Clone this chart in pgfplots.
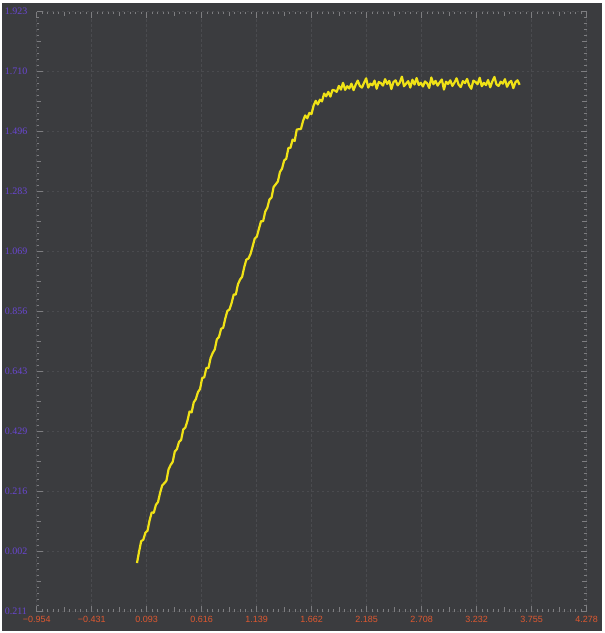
\documentclass[border=0pt]{standalone}
\usepackage{fontspec}
\setmainfont{Liberation Sans}
\newfontfamily\ylabfont{Liberation Serif}
\usepackage{pgfplots}
\pgfplotsset{compat=1.18}
\definecolor{bgdark}{RGB}{59,60,63}
\definecolor{gridgray}{RGB}{74,75,79}
\definecolor{tickgray}{RGB}{125,125,128}
\definecolor{ylab}{RGB}{105,70,210}
\definecolor{xlab}{RGB}{222,88,48}
\definecolor{curve}{RGB}{240,226,22}
\begin{document}
\begin{tikzpicture}
\useasboundingbox (-36.7bp,-21.3bp) rectangle (568.3bp,611.7bp);
\fill[white] (-36.7bp,-21.3bp) rectangle (568.3bp,611.7bp);
\fill[bgdark] (-34.7bp,-19.3bp) rectangle (565.3bp,608.7bp);
\begin{axis}[
  width=550bp, height=600bp, scale only axis,
  xmin=-0.954, xmax=4.278, ymin=-0.211, ymax=1.923,
  axis line style={draw=none},
  tick align=inside, tick pos=both,
  xticklabel pos=bottom, yticklabel pos=left,
  xtick={-0.954,-0.4308,0.0924,0.6156,1.1388,1.662,2.1852,2.7084,3.2316,3.7548,4.278},
  xticklabels={−0.954,−0.431,0.093,0.616,1.139,1.662,2.185,2.708,3.232,3.755,4.278},
  ytick={-0.211,0.0024,0.2158,0.4292,0.6426,0.856,1.0694,1.2828,1.4962,1.7096,1.923},
  yticklabels={0.211,0.002,0.216,0.429,0.643,0.856,1.069,1.283,1.496,1.710,1.923},
  minor tick num=9,
  major tick length=6bp, minor tick length=2.5bp,
  every tick/.style={color=tickgray, line width=0.8bp},
  xmajorgrids, ymajorgrids,
  major grid style={color=gridgray, dash pattern=on 2.5bp off 2.5bp, line width=0.7bp},
  xticklabel style={font=\fontsize{9}{10}\selectfont, text=xlab, anchor=north, inner sep=0pt, yshift=-4.5bp},
  yticklabel style={font=\ylabfont\fontsize{10}{11}\selectfont, text=ylab, anchor=west, inner sep=0pt, xshift=-32bp},
  extra x ticks={-0.6924,-0.1692,0.354,0.8772,1.4004,1.9236,2.4468,2.97,3.4932,4.0164},
  extra x tick labels={},
  extra x tick style={grid=none, major tick length=4.5bp},
  extra y ticks={-0.1043,0.1091,0.3225,0.5359,0.7493,0.9627,1.1761,1.3895,1.6029,1.8163},
  extra y tick labels={},
  extra y tick style={grid=none, major tick length=4.5bp},
]
\addplot[color=curve, line width=2.2bp, mark=none, line join=round] coordinates {
(0.00,-0.038) (0.02,0.003) (0.04,0.040) (0.06,0.045) (0.08,0.070) (0.10,0.077)
(0.12,0.114) (0.14,0.142) (0.16,0.141) (0.18,0.169) (0.20,0.179) (0.22,0.212)
(0.24,0.238) (0.26,0.246) (0.28,0.255) (0.30,0.295) (0.32,0.311) (0.34,0.322)
(0.36,0.359) (0.38,0.367) (0.40,0.393) (0.42,0.400) (0.44,0.437) (0.46,0.444)
(0.48,0.468) (0.50,0.501) (0.52,0.498) (0.54,0.534) (0.56,0.545) (0.58,0.570)
(0.60,0.581) (0.62,0.620) (0.64,0.623) (0.66,0.656) (0.68,0.656) (0.70,0.691)
(0.72,0.709) (0.74,0.722) (0.76,0.758) (0.78,0.766) (0.80,0.795) (0.82,0.799)
(0.84,0.832) (0.86,0.859) (0.88,0.864) (0.90,0.887) (0.92,0.917) (0.94,0.917)
(0.96,0.953) (0.98,0.970) (1.00,0.980) (1.02,1.014) (1.04,1.041) (1.06,1.045)
(1.08,1.061) (1.10,1.088) (1.12,1.116) (1.14,1.123) (1.16,1.151) (1.18,1.178)
(1.20,1.178) (1.22,1.212) (1.24,1.226) (1.26,1.255) (1.28,1.262) (1.30,1.300)
(1.32,1.309) (1.34,1.319) (1.36,1.353) (1.38,1.365) (1.40,1.394)
(1.42,1.400) (1.44,1.438) (1.46,1.439) (1.48,1.468) (1.50,1.463) (1.52,1.504)
(1.54,1.505) (1.56,1.506) (1.58,1.535) (1.60,1.554) (1.62,1.544) (1.64,1.563)
(1.66,1.559) (1.68,1.589) (1.70,1.606) (1.72,1.593) (1.74,1.610) (1.76,1.604)
(1.78,1.632) (1.80,1.622) (1.82,1.638) (1.84,1.621) (1.86,1.645) (1.88,1.643)
(1.90,1.638) (1.92,1.659) (1.94,1.646) (1.96,1.670) (1.98,1.645) (2.00,1.658)
(2.02,1.650) (2.04,1.667) (2.06,1.644) (2.08,1.663) (2.10,1.678) (2.12,1.659)
(2.14,1.653) (2.16,1.670) (2.18,1.686) (2.20,1.653) (2.22,1.667) (2.24,1.661)
(2.26,1.678) (2.28,1.649) (2.30,1.673) (2.32,1.669) (2.34,1.660) (2.36,1.683)
(2.38,1.666) (2.40,1.677) (2.42,1.648) (2.44,1.673) (2.46,1.679) (2.48,1.661)
(2.50,1.671) (2.52,1.692) (2.54,1.658) (2.56,1.667) (2.58,1.676) (2.60,1.653)
(2.62,1.681) (2.64,1.664) (2.66,1.687) (2.68,1.662) (2.70,1.670) (2.72,1.657)
(2.74,1.675) (2.76,1.668) (2.78,1.652) (2.80,1.689) (2.82,1.665) (2.84,1.677)
(2.86,1.660) (2.88,1.672) (2.90,1.682) (2.92,1.646) (2.94,1.674) (2.96,1.666)
(2.98,1.679) (3.00,1.659) (3.02,1.671) (3.04,1.686) (3.06,1.663) (3.08,1.655)
(3.10,1.676) (3.12,1.669) (3.14,1.684) (3.16,1.661) (3.18,1.649) (3.20,1.678)
(3.22,1.673) (3.24,1.665) (3.26,1.688) (3.28,1.658) (3.30,1.670) (3.32,1.662)
(3.34,1.680) (3.36,1.654) (3.38,1.675) (3.40,1.691) (3.42,1.664) (3.44,1.659)
(3.46,1.674) (3.48,1.667) (3.50,1.683) (3.52,1.656) (3.54,1.671) (3.56,1.677)
(3.58,1.651) (3.60,1.672) (3.62,1.679) (3.64,1.663)
};
\end{axis}
\end{tikzpicture}
\end{document}
